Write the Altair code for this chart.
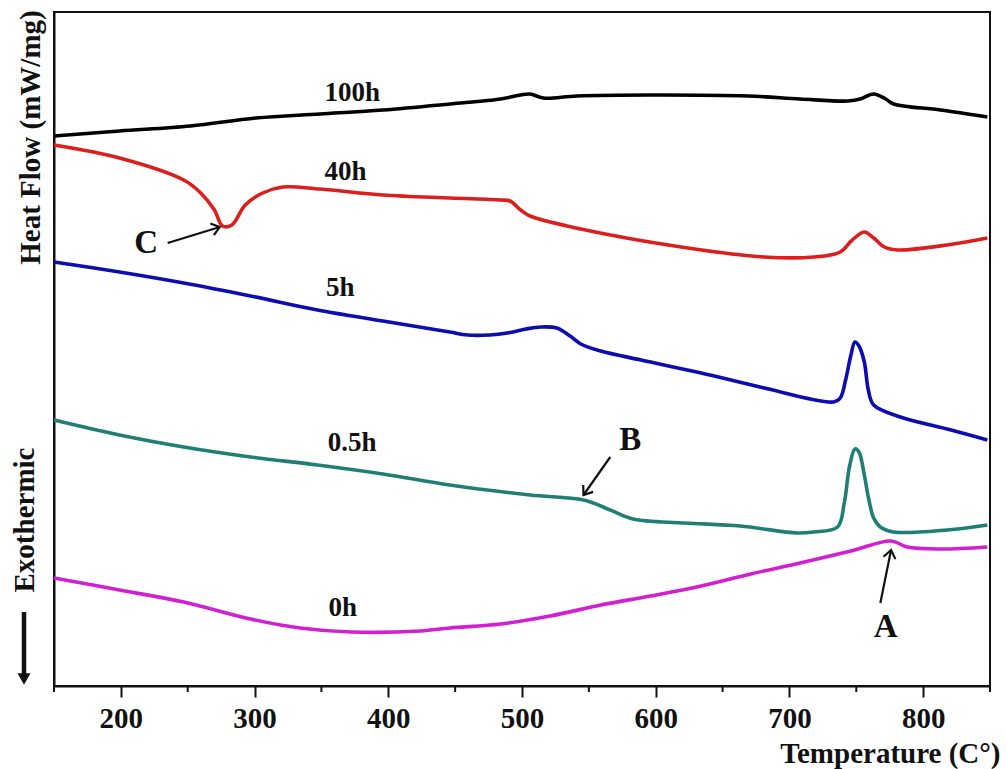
import altair as alt
import pandas as pd
import math

# ---------------- data ----------------
t_100h = [150, 199, 252, 301, 349, 396, 446, 484, 499, 506, 516, 541, 596, 669, 708, 744, 753, 763, 772, 778, 813, 848]
v_100h = [550, 555, 560, 568, 572, 576, 582, 587, 591, 592, 588, 590, 591, 590, 587, 585, 587, 592, 587, 582, 576, 569]

t_40h = [150, 199, 247, 259, 270, 276, 283, 293, 306, 321, 349, 396, 446, 484, 491, 499, 506, 544, 619, 681, 718, 738, 747, 756, 763, 771, 781, 818, 848]
v_40h = [541, 528, 506, 494, 476, 460, 461, 481, 493, 499, 497, 491, 488, 486, 485, 476, 470, 457, 439, 429, 429, 434, 446, 454, 448, 439, 436, 441, 448]

t_5h = [150, 199, 247, 297, 347, 396, 446, 459, 476, 489, 503, 514, 526, 536, 544, 559, 589, 634, 678, 733, 738, 742, 746, 749, 752, 756, 759, 763, 783, 821, 848]
v_5h = [424, 414, 403, 390, 376, 365, 354, 351, 351, 353, 357, 359, 358, 350, 342, 335, 326, 313, 299, 284, 288, 306, 331, 344, 340, 324, 296, 281, 269, 256, 246]

t_05h = [150, 199, 247, 297, 347, 396, 446, 506, 546, 566, 583, 621, 663, 706, 718, 736, 741, 745, 749, 752, 756, 759, 763, 768, 778, 818, 848]
v_05h = [266, 251, 239, 229, 221, 212, 201, 191, 186, 176, 167, 163, 160, 153, 154, 159, 183, 220, 237, 234, 211, 189, 168, 159, 154, 156, 161]

t_0h = [150, 199, 247, 297, 334, 372, 424, 446, 484, 521, 559, 596, 634, 671, 708, 746, 776, 788, 813, 848]
v_0h = [108, 96, 84, 67, 58, 54, 55, 58, 62, 70, 81, 90, 100, 112, 123, 135, 145, 139, 137, 139]

series_names = ["100h", "40h", "5h", "0.5h", "0h"]
series_colors = ["#000000", "#dc1e1e", "#0c0cb0", "#1f7f75", "#d21fd2"]

# curve labels
label_text = ["100h", "40h", "5h", "0.5h", "0h"]
label_t = [373, 368, 364, 373, 366]
label_v = [593, 514, 398, 243, 78]

# annotation letters and arrows
letter_text = ["C", "B", "A"]
letter_t = [219, 581, 772]
letter_v = [443, 246, 59]
arrow_t0 = [235, 566, 768]
arrow_v0 = [443, 229, 83]
arrow_t1 = [274, 546, 776]
arrow_v1 = [459, 191, 136]

x_ticks = [200, 300, 400, 500, 600, 700, 800]
x_minor = [150, 250, 350, 450, 550, 650, 750, 850]

# ---------------- layout ----------------
W, H = 936, 674
X_DOM = [150, 850]
Y_DOM = [0, 674]
FONT = "Liberation Serif"

rows = []
for name, ts, vs in zip(series_names, [t_100h, t_40h, t_5h, t_05h, t_0h],
                        [v_100h, v_40h, v_5h, v_05h, v_0h]):
    for i, (t, v) in enumerate(zip(ts, vs)):
        rows.append({"series": name, "T": t, "v": v, "i": i})
curves = pd.DataFrame(rows)

px_per_t = W / (X_DOM[1] - X_DOM[0])
px_per_v = H / (Y_DOM[1] - Y_DOM[0])
arrows = pd.DataFrame({"t0": arrow_t0, "v0": arrow_v0, "t1": arrow_t1, "v1": arrow_v1})
arrows["ang"] = [
    (math.degrees(math.atan2((t1 - t0) * px_per_t, (v1 - v0) * px_per_v)) + 360) % 360
    for t0, v0, t1, v1 in zip(arrow_t0, arrow_v0, arrow_t1, arrow_v1)
]

xs = alt.Scale(domain=X_DOM, nice=False, zero=False)
ys = alt.Scale(domain=Y_DOM, nice=False, zero=False)

x_axis = alt.Axis(
    values=x_ticks, tickSize=11, tickWidth=2, tickColor="#111", domainColor="#111",
    domainWidth=2, grid=False, labelFont=FONT, labelFontSize=29, labelFontWeight="bold",
    labelColor="#111", labelPadding=7, title="Temperature (C°)", titleFont=FONT,
    titleFontSize=29, titleFontWeight="bold", titleColor="#111", titleX=946, titleY=67,
    titleAlign="right", titleBaseline="middle", labelFlush=False,
)
y_axis = alt.Axis(
    labels=False, ticks=False, grid=False, domainColor="#111", domainWidth=2,
    title="Heat Flow (mW/mg)", titleFont=FONT, titleFontSize=29, titleFontWeight="bold",
    titleColor="#111", titleX=-24, titleY=125, titleAngle=270, titleAlign="center",
    titleBaseline="middle",
)

lines = alt.Chart(curves).mark_line(strokeWidth=3.6, interpolate="catmull-rom").encode(
    x=alt.X("T:Q", scale=xs, axis=x_axis),
    y=alt.Y("v:Q", scale=ys, axis=y_axis),
    color=alt.Color("series:N", scale=alt.Scale(domain=series_names, range=series_colors), legend=None),
    detail="series:N",
    order="i:Q",
)

labels_df = pd.DataFrame({"text": label_text, "T": label_t, "v": label_v})
labels = alt.Chart(labels_df).mark_text(font=FONT, fontSize=27, fontWeight="bold", color="#111").encode(
    x=alt.X("T:Q", scale=xs), y=alt.Y("v:Q", scale=ys), text="text:N"
)

letters_df = pd.DataFrame({"text": letter_text, "T": letter_t, "v": letter_v})
letters = alt.Chart(letters_df).mark_text(font=FONT, fontSize=33, fontWeight="bold", color="#111").encode(
    x=alt.X("T:Q", scale=xs), y=alt.Y("v:Q", scale=ys), text="text:N"
)

shafts = alt.Chart(arrows).mark_rule(strokeWidth=2.2, color="#111").encode(
    x=alt.X("t0:Q", scale=xs), y=alt.Y("v0:Q", scale=ys), x2="t1:Q", y2="v1:Q"
)
heads = alt.Chart(arrows).mark_point(
    shape="M -0.75 1 L 0 0 L 0.75 1", filled=False, strokeWidth=2.2, color="#111", size=260, opacity=1
).encode(
    x=alt.X("t1:Q", scale=xs), y=alt.Y("v1:Q", scale=ys), angle=alt.Angle("ang:Q", scale=None)
)

minor = alt.Chart(pd.DataFrame({"T": x_minor})).mark_rule(strokeWidth=2, color="#111").encode(
    x=alt.X("T:Q", scale=xs), y=alt.value(H), y2=alt.value(H + 6)
)

one = alt.Data(values=[{"k": 1}])
exo_text = alt.Chart(one).mark_text(
    text="Exothermic", font=FONT, fontSize=29, fontWeight="bold", color="#111", angle=270,
    baseline="middle", align="center"
).encode(x=alt.value(-29), y=alt.value(508))
exo_shaft = alt.Chart(one).mark_rule(strokeWidth=4.5, color="#111").encode(
    x=alt.value(-30), y=alt.value(600), y2=alt.value(662)
)
exo_head = alt.Chart(one).mark_point(shape="triangle-down", filled=True, size=170, color="#111", opacity=1).encode(
    x=alt.value(-30), y=alt.value(667)
)

chart = alt.layer(lines, labels, letters, shafts, heads, minor, exo_text, exo_shaft, exo_head).properties(
    width=W, height=H,
    autosize=alt.AutoSizeParams(type="none"),
    padding={"left": 54, "top": 12, "right": 16, "bottom": 83},
    background="white",
).configure_view(stroke="#111", strokeWidth=2)

chart.save("out.html", embed_options={"renderer": "svg", "actions": False})
